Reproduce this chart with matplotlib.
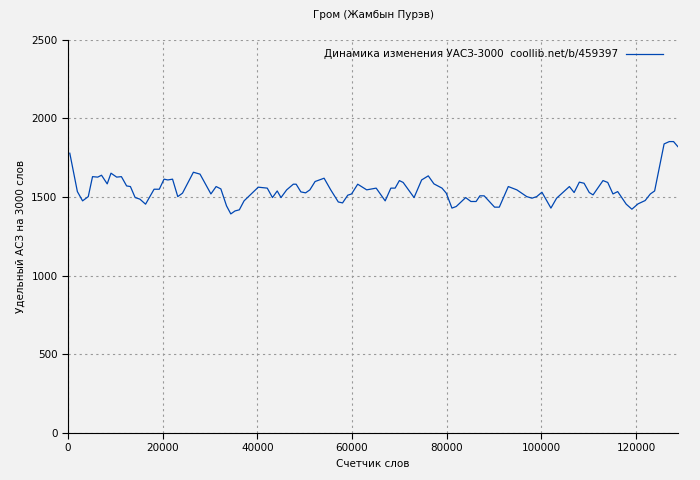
import matplotlib
matplotlib.use("Agg")
import matplotlib.pyplot as plt

# word counter positions and values
words = [400, 2000, 3100, 4300, 5200, 6300, 7100, 8300, 9100, 10300, 11300, 12400,
         13200, 14200, 15200, 16400, 18200, 19300, 20300, 21100, 22100, 23200, 24200,
         26500, 27900, 30200, 31300, 32300, 33500, 34400, 35300, 36200, 37200, 40200,
         42100, 43200, 44200, 45000, 46200, 47600, 48200, 49200, 50200, 51100, 52200,
         54100, 55500, 57100, 58000, 59100, 59900, 61200, 63100, 65100, 67000, 68200,
         69100, 70000, 70800, 73100, 74700, 76100, 77300, 79000, 79900, 81100, 82000,
         84000, 85100, 86200, 87000, 87900, 90100, 91100, 93000, 94800, 96900, 98000,
         99000, 100100, 102000, 103200, 105900, 106900, 108000, 109000, 110100, 110900,
         113000, 114000, 115100, 116100, 117900, 119100, 120400, 121900, 123000, 123900,
         125900, 127000, 127900, 128800]
uasz = [1779, 1535, 1476, 1503, 1630, 1627, 1639, 1584, 1652, 1627, 1630, 1571,
        1567, 1497, 1487, 1455, 1550, 1550, 1614, 1609, 1614, 1503, 1525,
        1658, 1646, 1520, 1567, 1552, 1444, 1393, 1412, 1419, 1476, 1563,
        1557, 1497, 1539, 1497, 1546, 1582, 1582, 1533, 1527, 1546, 1599,
        1620, 1546, 1469, 1463, 1512, 1520, 1582, 1546, 1557, 1476, 1557,
        1557, 1605, 1593, 1497, 1609, 1635, 1584, 1557, 1525, 1430, 1440,
        1497, 1472, 1472, 1508, 1508, 1436, 1436, 1567, 1546, 1503, 1493,
        1503, 1531, 1430, 1493, 1567, 1529, 1595, 1588, 1529, 1514,
        1605, 1593, 1520, 1535, 1455, 1423, 1457, 1478, 1520, 1539,
        1838, 1853, 1853, 1821]

bg = "#f2f2f2"
fig, ax = plt.subplots(figsize=(7, 4.8), dpi=100)
fig.patch.set_facecolor(bg)
ax.set_facecolor(bg)
fig.subplots_adjust(left=0.097, right=0.969, top=0.917, bottom=0.098)

ax.plot(words, uasz, color="#0047b3", lw=0.9,
        label="Динамика изменения УАСЗ-3000  coollib.net/b/459397")
ax.set_xlim(0, 128900)
ax.set_ylim(0, 2500)
ax.set_xticks(range(0, 120001, 20000))
ax.set_yticks(range(0, 2501, 500))
ax.grid(True, color="#999999", ls=(0, (2, 3)), lw=0.8)
ax.tick_params(labelsize=7.5, direction="out", length=4)
ax.set_title("Гром (Жамбын Пурэв)", fontsize=7.5, pad=16)
ax.set_xlabel("Счетчик слов", fontsize=7.5)
ax.set_ylabel("Удельный АСЗ на 3000 слов", fontsize=7.5)
leg = ax.legend(loc="upper right", fontsize=7.5, frameon=False, markerfirst=False,
                handlelength=3.5, bbox_to_anchor=(0.99, 1.0))
for s in ["top", "right"]:
    ax.spines[s].set_visible(False)

fig.savefig("out.png", facecolor=bg)
